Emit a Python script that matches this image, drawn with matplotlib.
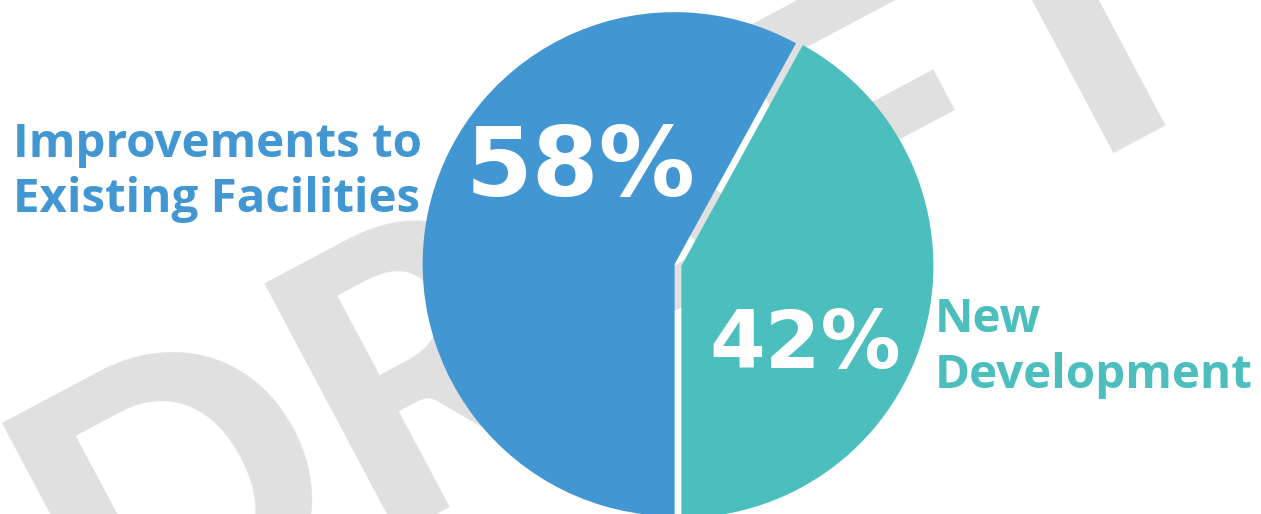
import matplotlib
matplotlib.use("Agg")
import matplotlib.pyplot as plt

categories = ["Improvements to Existing Facilities", "New Development"]
label_lines = [["Improvements to", "Existing Facilities"], ["New", "Development"]]
values = [58, 42]
pct_labels = ["58%", "42%"]
colors = ["#4297D3", "#4BBEBD"]
watermark = "DRAFT"

W, H = 1261, 514
fig = plt.figure(figsize=(W / 100, H / 100), dpi=100)
ax = fig.add_axes([0, 0, 1, 1])


def py(y):
    return H - y


def pt(px):
    return px * 0.72


# watermark (behind everything)
ax.text(105, py(674), watermark, rotation=28, rotation_mode="anchor",
        ha="left", va="baseline", fontsize=pt(392), color="#e0e0e0",
        family="Lato", fontweight="black", zorder=0)

cx, cy, r = 678, py(265), 252
start = 270 - 3.6 * values[0]
gap = 3.5  # offset of each wedge from the centre, in pixels (data units)
wedges, _ = ax.pie(values, colors=colors, startangle=start, counterclock=True,
                   center=(cx, cy), radius=r, frame=True,
                   explode=[gap, gap],
                   wedgeprops=dict(edgecolor="none", linewidth=0, zorder=2))
ax.set_xlim(0, W)
ax.set_ylim(0, H)
ax.set_aspect("equal")
ax.axis("off")

ax.text(581, py(196), pct_labels[0], ha="center", va="baseline", color="white",
        fontsize=pt(96), family="DejaVu Sans", fontweight="bold", zorder=3)
ax.text(805, py(368), pct_labels[1], ha="center", va="baseline", color="white",
        fontsize=pt(80), family="DejaVu Sans", fontweight="bold", zorder=3)

lab_font = dict(family="Open Sans", fontweight="bold", fontsize=pt(47.5), zorder=3)
ax.text(13, py(157), label_lines[0][0], ha="left", va="baseline", color=colors[0], **lab_font)
ax.text(13, py(212), label_lines[0][1], ha="left", va="baseline", color=colors[0], **lab_font)
ax.text(935, py(332), label_lines[1][0], ha="left", va="baseline", color=colors[1], **lab_font)
ax.text(935, py(388), label_lines[1][1], ha="left", va="baseline", color=colors[1], **lab_font)

fig.savefig("out.png", dpi=100)
